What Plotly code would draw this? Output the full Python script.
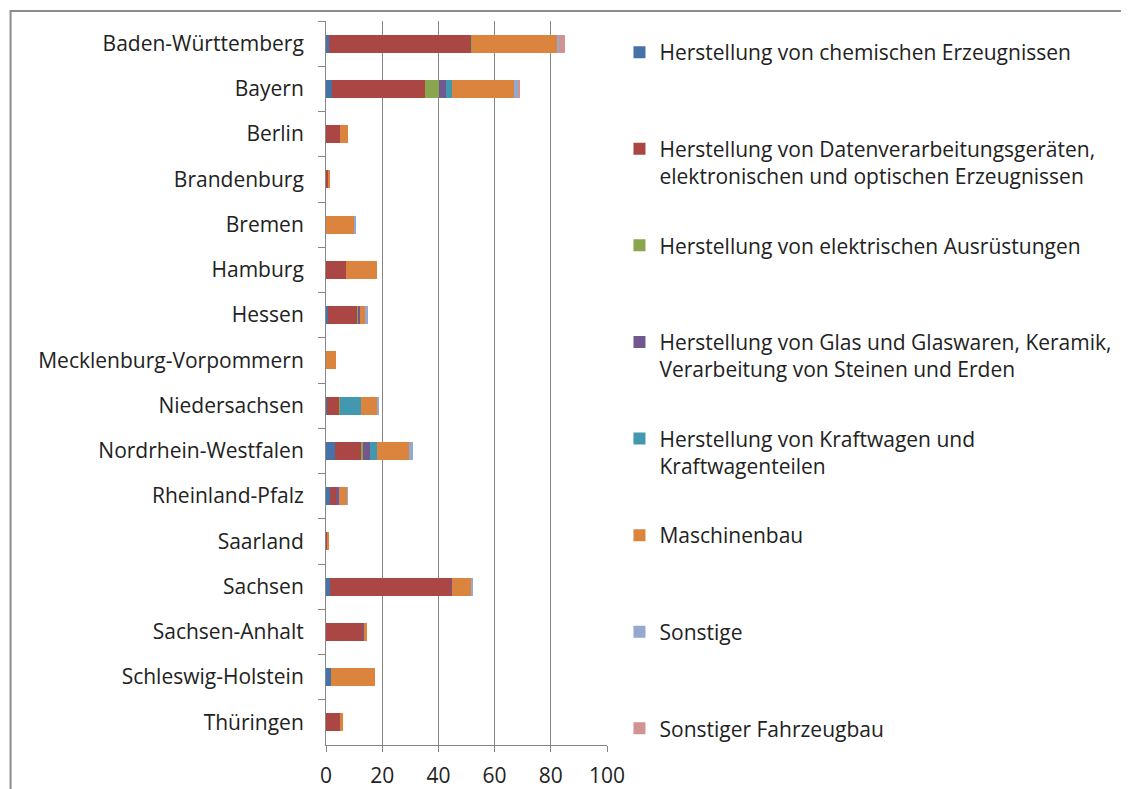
import plotly.graph_objects as go

laender = ["Baden-Württemberg", "Bayern", "Berlin", "Brandenburg", "Bremen", "Hamburg",
           "Hessen", "Mecklenburg-Vorpommern", "Niedersachsen", "Nordrhein-Westfalen",
           "Rheinland-Pfalz", "Saarland", "Sachsen", "Sachsen-Anhalt", "Schleswig-Holstein",
           "Thüringen"]

chemie = [1.1, 2.2, 0, 0, 0, 0, 0.6, 0, 0.5, 3.1, 1.4, 0, 1.4, 0, 1.9, 0]
datenverarbeitung = [50.7, 33.2, 5.1, 1.05, 0, 7.2, 10.6, 0, 4.2, 9.4, 2.1, 0.7, 43.4, 13.2, 0, 5.1]
elektrisch = [0.3, 4.9, 0, 0, 0, 0, 0.5, 0, 0.35, 0.5, 0, 0, 0, 0, 0, 0]
glas = [0, 2.5, 0, 0, 0, 0, 0.35, 0, 0, 2.8, 1.2, 0, 0.2, 0.2, 0, 0]
kraftwagen = [0, 2.1, 0, 0, 0, 0, 0, 0, 7.4, 2.5, 0, 0, 0, 0, 0, 0]
maschinenbau = [30.4, 22.1, 2.9, 0.35, 10.1, 11.1, 1.8, 3.5, 5.9, 11.4, 2.8, 0.35, 6.8, 1.2, 15.5, 0.8]
sonstige = [0.3, 1.4, 0, 0, 0.35, 0, 1.2, 0, 0.6, 1.3, 0.2, 0, 0.35, 0, 0, 0]
fahrzeugbau = [2.1, 0.3, 0, 0, 0, 0, 0, 0, 0, 0, 0, 0, 0, 0, 0, 0]

series_names = [
    "Herstellung von chemischen Erzeugnissen",
    "Herstellung von Datenverarbeitungsgeräten,<br>elektronischen und optischen Erzeugnissen",
    "Herstellung von elektrischen Ausrüstungen",
    "Herstellung von Glas und Glaswaren, Keramik,<br>Verarbeitung von Steinen und Erden",
    "Herstellung von Kraftwagen und<br>Kraftwagenteilen",
    "Maschinenbau",
    "Sonstige",
    "Sonstiger Fahrzeugbau",
]
series_values = [chemie, datenverarbeitung, elektrisch, glas, kraftwagen, maschinenbau, sonstige, fahrzeugbau]
colors = ["#4572A7", "#AA4643", "#89A54E", "#71588F", "#4198AF", "#DB843D", "#93A9CF", "#D19392"]

x_ticks = [0, 20, 40, 60, 80, 100]

FONT = "Open Sans"
FS = 21
TXT = "#222222"
GRID = "#868686"

# the page body has an 8px margin; lay out in page pixels and subtract it
OFF = 8
PAGE_W, PAGE_H = 1129, 789
W, H = PAGE_W - OFF, PAGE_H - OFF
plot_left, plot_right, plot_top, plot_bottom = 326, 607.5, 21, 745   # page pixels
ML = plot_left - OFF
MT = plot_top - OFF
MR = W - (plot_right - OFF)
MB = H - (plot_bottom - OFF)
pw = W - ML - MR
ph = H - MT - MB

def px_x(p):
    return (p - OFF - ML) / pw

def px_y(p):
    return 1 - (p - OFF - MT) / ph

fig = go.Figure()
n = len(series_names)
for i, (name, vals, col) in enumerate(zip(series_names, series_values, colors)):
    label = name if ("<br>" in name or i == n - 1) else name + "<br> "
    fig.add_trace(go.Bar(
        y=laender, x=vals, orientation="h", name=label, legendgroup=name,
        marker=dict(color=col, line=dict(width=0)),
    ))

fig.update_layout(
    width=W, height=H,
    margin=dict(l=ML, r=MR, t=MT, b=MB, autoexpand=False),
    barmode="stack", bargap=0.6,
    plot_bgcolor="white", paper_bgcolor="white",
    font=dict(family=FONT, size=FS, color=TXT),
    showlegend=True,
    legend=dict(
        x=px_x(620), xanchor="left",
        y=px_y(32), yanchor="top",
        valign="top", tracegroupgap=39, traceorder="grouped",
        maxheight=1500,
        font=dict(family=FONT, size=FS, color=TXT),
        bgcolor="rgba(0,0,0,0)",
    ),
    xaxis=dict(
        range=[0, 100], tickvals=x_ticks, showgrid=True, gridcolor=GRID, gridwidth=1,
        zeroline=False, showline=True, linecolor=GRID, linewidth=1,
        ticks="outside", ticklen=6, tickcolor=GRID, ticklabelstandoff=6,
        tickfont=dict(family=FONT, size=FS, color=TXT),
    ),
    yaxis=dict(
        autorange="reversed", showgrid=False, showline=True, linecolor=GRID, linewidth=1,
        ticks="outside", ticklen=7, tickcolor=GRID, tickson="boundaries",
        ticklabelstandoff=17, tickfont=dict(family=FONT, size=FS, color=TXT),
    ),
)

# outer chart border (runs past the visible page on the right and bottom)
fig.add_shape(
    type="rect", xref="paper", yref="paper",
    x0=px_x(10), x1=px_x(PAGE_W + 30),
    y0=px_y(PAGE_H + 30), y1=px_y(11),
    line=dict(color="#8C8C8C", width=2), fillcolor="rgba(0,0,0,0)", layer="below",
)

fig.write_html("out.html")
